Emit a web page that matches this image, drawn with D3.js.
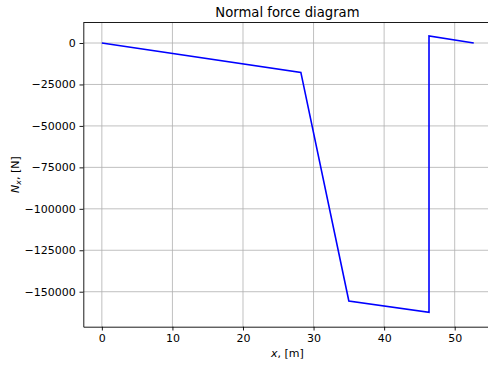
<!DOCTYPE html>
<html>
<head>
<meta charset="utf-8">
<script src="https://cdn.jsdelivr.net/npm/d3@7"></script>
<style>
	body { margin: 0; background: #fff; }
	svg { display: block; font-family: "DejaVu Sans", sans-serif; }
</style>
</head>
<body>
<svg id="chart" width="488" height="367"></svg>
<script>
(function() {

// DATA
	var xPoints = [0, 28.2, 35.0, 46.36, 46.36, 52.7];
	var nPoints = [0, -17700, -155600, -162400, 4200, 0];
	var xTicks = [0, 10, 20, 30, 40, 50];
	var yTicks = [0, -25000, -50000, -75000, -100000, -125000, -150000];

// LAYOUT
	var left = 83.3, right = 491.6, top = 22.5, bottom = 326.7;
	var svg = d3.select('#chart');

	var x = d3.scaleLinear().domain([-2.63, 55.23]).range([left, right]);
	var y = d3.scaleLinear().domain([-171100, 12370]).range([bottom, top]);

	// grid
	var grid = svg.append('g').attr('stroke', '#b0b0b0').attr('stroke-width', 0.8);
	grid.selectAll('.gx').data(xTicks).enter().append('line')
		.attr('x1', function(d) { return x(d); }).attr('x2', function(d) { return x(d); })
		.attr('y1', top).attr('y2', bottom);
	grid.selectAll('.gy').data(yTicks).enter().append('line')
		.attr('y1', function(d) { return y(d); }).attr('y2', function(d) { return y(d); })
		.attr('x1', left).attr('x2', right);

	// line
	var line = d3.line()
		.x(function(d, i) { return x(xPoints[i]); })
		.y(function(d) { return y(d); });
	svg.append('path')
		.datum(nPoints)
		.attr('d', line)
		.attr('fill', 'none')
		.attr('stroke', '#0000ff')
		.attr('stroke-width', 1.6)
		.attr('stroke-linejoin', 'miter');

	// axes
	var xaxis = svg.append('g')
		.attr('transform', 'translate(0,' + bottom + ')')
		.call(d3.axisBottom(x).tickValues(xTicks).tickSize(3.8).tickPadding(3.8).tickSizeOuter(0).tickFormat(d3.format('d')));
	var yaxis = svg.append('g')
		.attr('transform', 'translate(' + left + ',0)')
		.call(d3.axisLeft(y).tickValues(yTicks).tickSize(3.8).tickPadding(3.8).tickSizeOuter(0).tickFormat(d3.format('d')));

	[xaxis, yaxis].forEach(function(a) {
		a.attr('font-family', '"DejaVu Sans", sans-serif').attr('font-size', 11);
		a.selectAll('text').attr('fill', '#000');
		a.selectAll('line').attr('stroke', '#000').attr('stroke-width', 0.9);
		a.select('.domain').attr('stroke', '#000').attr('stroke-width', 0.9);
	});

	// top spine (right spine falls outside the picture)
	svg.append('line')
		.attr('x1', left).attr('x2', right).attr('y1', top).attr('y2', top)
		.attr('stroke', '#000').attr('stroke-width', 0.9);

	// labels
	svg.append('text')
		.attr('x', (left + right) / 2).attr('y', 16.7)
		.attr('text-anchor', 'middle').attr('font-size', 13.2)
		.text('Normal force diagram');

	var xl = svg.append('text')
		.attr('x', (left + right) / 2).attr('y', 357)
		.attr('text-anchor', 'middle').attr('font-size', 11);
	xl.append('tspan').attr('font-style', 'italic').text('x');
	xl.append('tspan').text(', [m]');

	var yl = svg.append('text')
		.attr('transform', 'translate(19,' + ((top + bottom) / 2) + ') rotate(-90)')
		.attr('text-anchor', 'middle').attr('font-size', 11);
	yl.append('tspan').attr('font-style', 'italic').text('N');
	yl.append('tspan').attr('font-style', 'italic').attr('font-size', 7.7).attr('dy', 2).text('x');
	yl.append('tspan').attr('dy', -2).text(', [N]');

})()
</script>
</body>
</html>
